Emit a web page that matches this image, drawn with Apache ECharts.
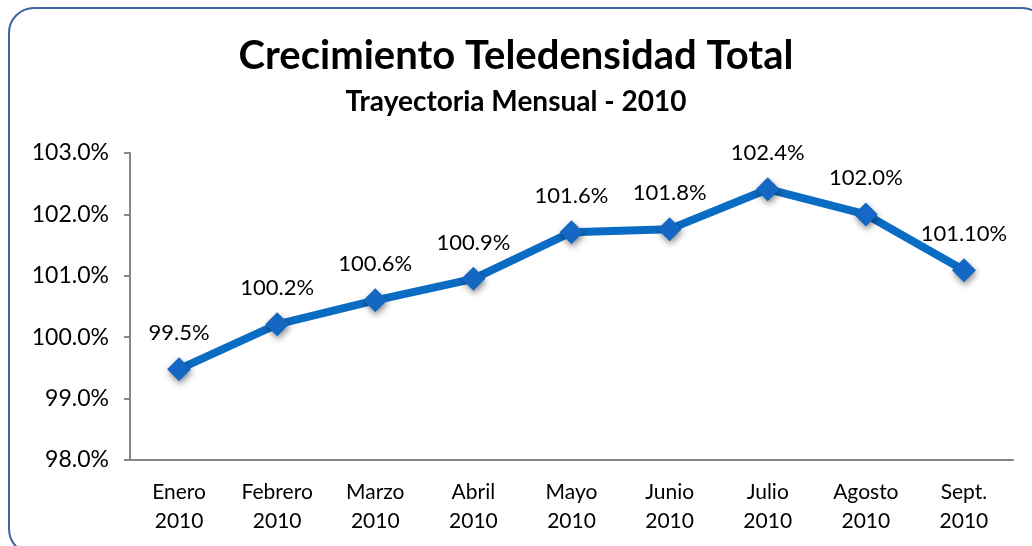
<!DOCTYPE html>
<html>
<head>
<meta charset="utf-8">
<script src="https://cdn.jsdelivr.net/npm/echarts@6/dist/echarts.min.js"></script>
<style>
  html, body { margin: 0; padding: 0; background: #fff; overflow: hidden; }
  #frame {
    position: absolute; left: 8px; top: 7px; width: 1040px; height: 548px;
    border: 2px solid #3b64a0; border-radius: 26px; box-sizing: border-box;
  }
  #main { position: absolute; left: 0; top: 0; width: 1032px; height: 546px; }
</style>
</head>
<body>
<div id="frame"></div>
<div id="main"></div>
<script>
const months = ["Enero\n2010", "Febrero\n2010", "Marzo\n2010", "Abril\n2010", "Mayo\n2010",
  "Junio\n2010", "Julio\n2010", "Agosto\n2010", "Sept.\n2010"];
const teledensidad = [99.48, 100.21, 100.6, 100.95, 101.71, 101.76, 102.41, 102.0, 101.09];
const pointLabels = ["99.5%", "100.2%", "100.6%", "100.9%", "101.6%", "101.8%", "102.4%", "102.0%", "101.10%"];

window.onload = function () {
  const myChart = echarts.init(document.getElementById("main"));
  const font = "Lato, 'Open Sans', sans-serif";

  const options = {
    animation: false,
    textStyle: { fontFamily: font },
    title: {
      text: "Crecimiento Teledensidad Total",
      subtext: "Trayectoria Mensual - 2010",
      left: "center",
      top: 31,
      itemGap: 12,
      textStyle: { fontSize: 40, fontWeight: "bold", color: "#000", fontFamily: font },
      subtextStyle: { fontSize: 28, fontWeight: "bold", color: "#000", fontFamily: font }
    },
    grid: { left: 130, right: 19, top: 153, bottom: 86 },
    xAxis: {
      type: "category",
      data: months,
      boundaryGap: true,
      axisLine: { lineStyle: { color: "#868686", width: 2 } },
      axisTick: { length: 7, lineStyle: { color: "#868686", width: 2 } },
      axisLabel: { fontSize: 21, color: "#000", lineHeight: 29, margin: 18, fontFamily: font }
    },
    yAxis: {
      type: "value",
      min: 98,
      max: 103,
      interval: 1,
      splitLine: { show: false },
      axisLine: { show: true, lineStyle: { color: "#868686", width: 2 } },
      axisTick: { show: true, length: 6, lineStyle: { color: "#868686", width: 2 } },
      axisLabel: {
        fontSize: 23, color: "#000", margin: 21, fontFamily: font,
        formatter: v => v.toFixed(1) + "%"
      }
    },
    series: [
      {
        name: "Teledensidad",
        type: "line",
        data: teledensidad,
        symbol: "diamond",
        symbolSize: 24,
        lineStyle: { color: "#0b6cc4", width: 8 },
        itemStyle: {
          color: "#1468c4",
          shadowColor: "rgba(0,0,0,0.45)",
          shadowBlur: 6,
          shadowOffsetX: 1,
          shadowOffsetY: 3
        },
        label: {
          show: true,
          position: "top",
          distance: 13,
          fontSize: 22,
          color: "#000",
          fontFamily: font,
          formatter: p => pointLabels[p.dataIndex]
        }
      }
    ]
  };

  myChart.setOption(options);
};
</script>
</body>
</html>
